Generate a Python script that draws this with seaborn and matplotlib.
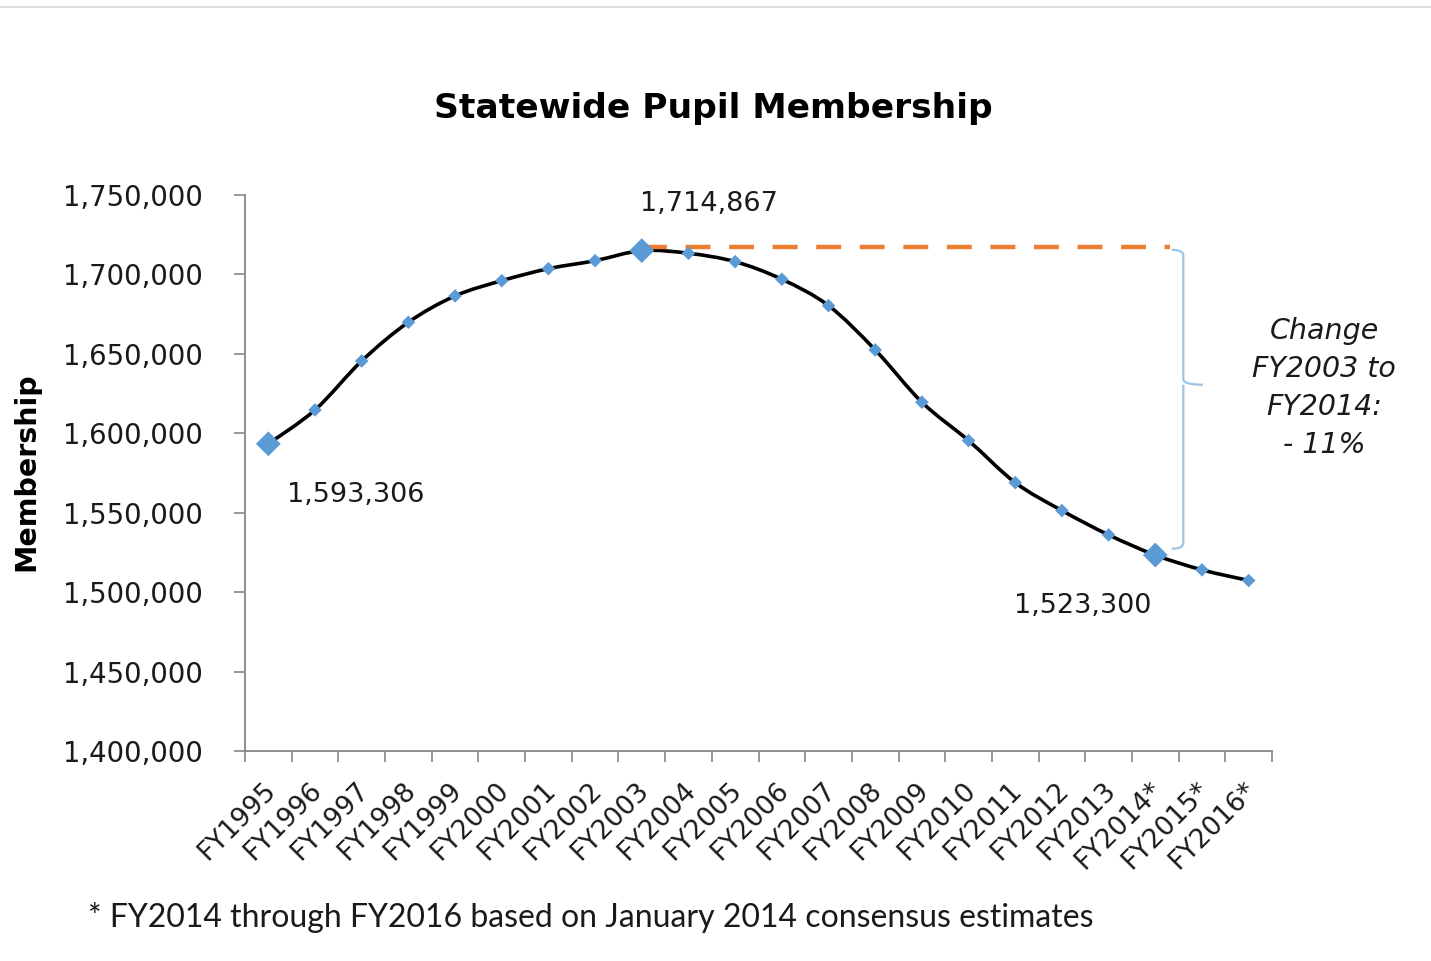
import numpy as np
import pandas as pd
import matplotlib
matplotlib.use("Agg")
import matplotlib.pyplot as plt
from matplotlib.path import Path
from matplotlib.patches import PathPatch
from matplotlib.lines import Line2D
from matplotlib.ticker import FuncFormatter, FixedLocator
from matplotlib.transforms import ScaledTranslation
import seaborn as sns

# Fiscal years and statewide membership counts
years = ["FY1995", "FY1996", "FY1997", "FY1998", "FY1999", "FY2000", "FY2001",
         "FY2002", "FY2003", "FY2004", "FY2005", "FY2006", "FY2007", "FY2008",
         "FY2009", "FY2010", "FY2011", "FY2012", "FY2013", "FY2014*",
         "FY2015*", "FY2016*"]
membership = [1593306, 1614650, 1645450, 1669800, 1686350, 1695950, 1703500,
              1708550, 1714867, 1713200, 1707900, 1696850, 1680250, 1652400,
              1619500, 1595350, 1568900, 1551300, 1536000, 1523300,
              1514000, 1507300]
highlight_years = ["FY1995", "FY2003", "FY2014*"]
y_ticks = [1400000, 1450000, 1500000, 1550000, 1600000, 1650000, 1700000, 1750000]

title = "Statewide Pupil Membership"
y_label = "Membership"
footnote = "* FY2014 through FY2016 based on January 2014 consensus estimates"
change_note = "Change\nFY2003 to\nFY2014:\n- 11%"

BLUE = "#5B9BD5"
ORANGE = "#ED7D31"
AXIS_GRAY = "#868686"

df = pd.DataFrame({"year": years, "membership": membership})
df["pos"] = np.arange(len(df))
df["big"] = df["year"].isin(highlight_years)

sns.set_theme(style="white")
plt.rcParams["font.family"] = ["DejaVu Sans"]

fig = plt.figure(figsize=(14.31, 9.61), dpi=100)
ax = fig.add_axes([0.1712, 0.2185, 0.7177, 0.5788])

# Smoothed connecting line (cubic Bezier segments through every data point)
px = df["pos"].to_numpy(dtype=float)
py = df["membership"].to_numpy(dtype=float)
verts = [(px[0], py[0])]
codes = [Path.MOVETO]
n = len(px)
for i in range(n - 1):
    p0 = np.array([px[max(i - 1, 0)], py[max(i - 1, 0)]])
    p1 = np.array([px[i], py[i]])
    p2 = np.array([px[i + 1], py[i + 1]])
    p3 = np.array([px[min(i + 2, n - 1)], py[min(i + 2, n - 1)]])
    c1 = p1 + (p2 - p0) / 6.0
    c2 = p2 - (p3 - p1) / 6.0
    verts += [tuple(c1), tuple(c2), tuple(p2)]
    codes += [Path.CURVE4] * 3
ax.add_patch(PathPatch(Path(verts, codes), facecolor="none", edgecolor="black",
                       lw=2.6, zorder=2, capstyle="round", joinstyle="round"))

# Diamond markers
sns.scatterplot(data=df[~df["big"]], x="pos", y="membership", marker="D",
                s=48, color=BLUE, edgecolor="none", ax=ax, zorder=4)
sns.scatterplot(data=df[df["big"]], x="pos", y="membership", marker="D",
                s=160, color=BLUE, edgecolor="none", ax=ax, zorder=5)

# Dashed reference at the FY2003 peak
peak_i = years.index("FY2003")
low_i = years.index("FY2014*")
peak_val = membership[peak_i]
low_val = membership[low_i]
ax.plot([peak_i, 19.32], [peak_val + 2000, peak_val + 2000], color=ORANGE, lw=3.2,
        dashes=(5.6, 4.2), zorder=3, solid_capstyle="butt", dash_capstyle="butt")

# Curly brace spanning the decline
bx, bl, bt = 19.6, 19.35, 20.02
ytop, ybot = peak_val + 500, low_val + 4000
ymid = 1630500
r = 3500
brace_v = [(bl, ytop), (bx, ytop), (bx, ytop - r),
           (bx, ymid + r), (bx, ymid), (bt, ymid),
           (bx, ymid), (bx, ymid - r),
           (bx, ybot + r), (bx, ybot), (bl, ybot)]
brace_c = [Path.MOVETO, Path.CURVE3, Path.CURVE3,
           Path.LINETO, Path.CURVE3, Path.CURVE3,
           Path.MOVETO, Path.CURVE3,
           Path.LINETO, Path.CURVE3, Path.CURVE3]
ax.add_patch(PathPatch(Path(brace_v, brace_c), facecolor="none",
                       edgecolor="#9DC3E6", lw=1.6, zorder=3))

# Value labels
lab_kw = dict(fontsize=19.5, color="#1a1a1a")
ax.text(0.4, membership[0] - 32500, f"{membership[0]:,}", ha="left", va="center", **lab_kw)
ax.text(peak_i + 1.45, peak_val + 29500, f"{peak_val:,}", ha="center", va="center", **lab_kw)
ax.text(low_i - 1.55, low_val - 32000, f"{low_val:,}", ha="center", va="center", **lab_kw)

# Axes styling
ax.set_xlim(-0.5, len(years) - 0.5)
ax.set_ylim(1400000, 1750000)
ax.set_yticks(y_ticks)
ax.yaxis.set_major_formatter(FuncFormatter(lambda v, p: f"{int(v):,}"))
ax.set_xticks(df["pos"])
ax.set_xticklabels(years, rotation=45, ha="right", va="top", rotation_mode="anchor")
ax.xaxis.set_minor_locator(FixedLocator(np.arange(-0.5, len(years), 1.0)))
ax.tick_params(axis="x", which="major", length=0, pad=19, labelsize=19, labelcolor="#1a1a1a")
ax.tick_params(axis="x", which="minor", length=8, width=1.2, color=AXIS_GRAY, bottom=True)
ax.tick_params(axis="y", length=8, width=1.2, color=AXIS_GRAY, left=True, pad=22,
               labelsize=19.8, labelcolor="#1a1a1a")
shift = ScaledTranslation(-6 / 100, 0, fig.dpi_scale_trans)
for lab in ax.get_xticklabels():
    lab.set_transform(lab.get_transform() + shift)
for side in ["top", "right"]:
    ax.spines[side].set_visible(False)
for side in ["left", "bottom"]:
    ax.spines[side].set_color(AXIS_GRAY)
    ax.spines[side].set_linewidth(1.3)
ax.set_xlabel("")
ax.set_ylabel("")

fig.text(0.0185, 0.509, y_label, rotation=90, ha="center", va="center",
         fontsize=20.5, fontweight="bold", color="black")
fig.text(0.4985, 0.887, title, ha="center", va="center", fontsize=24.8,
         fontweight="bold", color="black")
fig.text(0.9255, 0.5963, change_note, ha="center", va="center", fontsize=20.5,
         style="italic", color="#1a1a1a", linespacing=1.45)
fig.text(0.0615, 0.045, footnote, ha="left", va="center", fontsize=23,
         family=["Lato", "DejaVu Sans"], color="#1a1a1a")

# Thin rule along the top of the canvas
fig.add_artist(Line2D([0, 1], [0.9925, 0.9925], transform=fig.transFigure,
                      color="#d9d9d9", lw=1.2))

fig.savefig("out.png", dpi=100, facecolor="white")
